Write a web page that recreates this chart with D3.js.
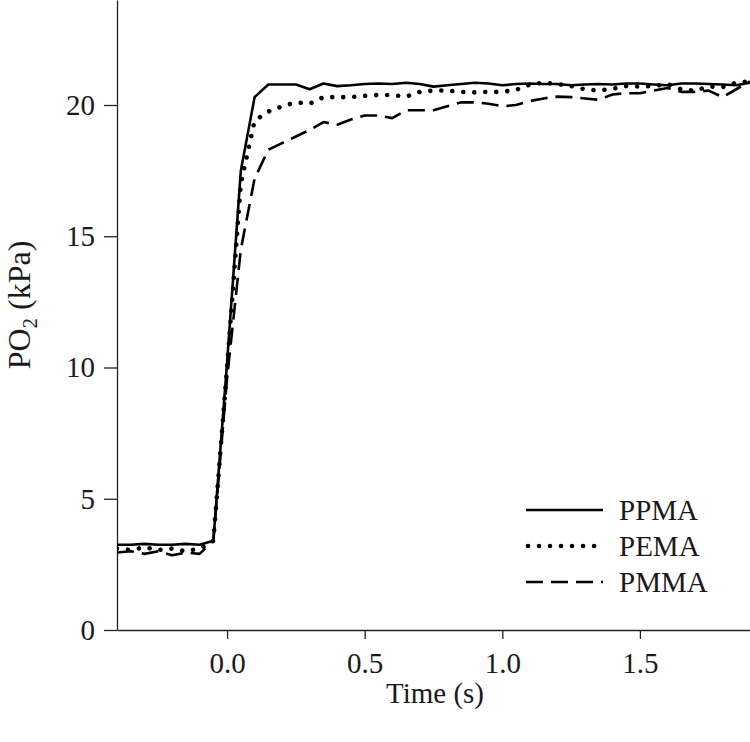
<!DOCTYPE html>
<html>
<head>
<meta charset="utf-8">
<script src="https://cdn.jsdelivr.net/npm/d3@7"></script>
<style>
  html, body { margin: 0; padding: 0; background: #fff; }
  svg { display: block; }
  text { font-family: "Liberation Serif", "DejaVu Serif", serif; fill: #1a1a1a; }
</style>
</head>
<body>
<svg id="chart" width="750" height="742"></svg>
<script>
// ---- data ----
const times = [-0.4, -0.35, -0.3, -0.25, -0.2, -0.15, -0.1, -0.05,
  0.0, 0.05, 0.1, 0.15, 0.2, 0.25, 0.3, 0.35, 0.4, 0.45,
  0.5, 0.55, 0.6, 0.65, 0.7, 0.75, 0.8, 0.85, 0.9, 0.95,
  1.0, 1.05, 1.1, 1.15, 1.2, 1.25, 1.3, 1.35, 1.4, 1.45,
  1.5, 1.55, 1.6, 1.65, 1.7, 1.75, 1.8, 1.85, 1.9];

const ppma = [3.25, 3.25, 3.28, 3.25, 3.25, 3.28, 3.25, 3.4,
  10.2, 17.5, 20.3, 20.78, 20.78, 20.78, 20.6, 20.82, 20.72, 20.75,
  20.8, 20.82, 20.8, 20.85, 20.8, 20.7, 20.75, 20.8, 20.85, 20.82,
  20.75, 20.8, 20.82, 20.8, 20.8, 20.75, 20.78, 20.8, 20.78, 20.82,
  20.82, 20.78, 20.75, 20.82, 20.82, 20.8, 20.78, 20.75, 20.85];

const pema = [3.1, 3.05, 3.15, 3.05, 3.1, 3.0, 3.1, 3.4,
  10.0, 17.0, 19.4, 19.75, 19.95, 20.1, 20.05, 20.3, 20.3, 20.3,
  20.35, 20.38, 20.38, 20.32, 20.5, 20.55, 20.55, 20.5, 20.48, 20.5,
  20.5, 20.58, 20.78, 20.85, 20.8, 20.72, 20.6, 20.55, 20.62, 20.72,
  20.7, 20.72, 20.8, 20.6, 20.55, 20.7, 20.68, 20.85, 20.9];

const pmma = [2.95, 3.0, 2.9, 3.0, 2.85, 2.95, 2.9, 3.4,
  9.6, 14.5, 17.2, 18.3, 18.55, 18.8, 19.05, 19.35, 19.25, 19.45,
  19.6, 19.6, 19.5, 19.8, 19.8, 19.8, 19.95, 20.1, 20.1, 20.05,
  19.95, 20.0, 20.15, 20.25, 20.32, 20.3, 20.25, 20.2, 20.4, 20.45,
  20.45, 20.55, 20.65, 20.5, 20.5, 20.55, 20.3, 20.6, 20.9];

const seriesNames = ["PPMA", "PEMA", "PMMA"];
const xTicks = [0.0, 0.5, 1.0, 1.5];
const xTickLabels = ["0.0", "0.5", "1.0", "1.5"];
const yTicks = [0, 5, 10, 15, 20];
const yTickLabels = ["0", "5", "10", "15", "20"];

// ---- layout ----
const svg = d3.select("#chart");
const plotLeft = 117, plotRight = 750, plotTop = 0, plotBottom = 630;
const fontSize = 29;

const x = d3.scaleLinear().domain([-0.4, 1.9]).range([plotLeft, plotRight]);
const y = d3.scaleLinear().domain([0, 24]).range([plotBottom, plotTop]);

const styles = {
  PPMA: { width: 2.6, dash: null, cap: "butt" },
  PEMA: { width: 4.6, dash: "0.01 11", cap: "round" },
  PMMA: { width: 2.6, dash: "17 8", cap: "butt" }
};
const seriesData = { PPMA: ppma, PEMA: pema, PMMA: pmma };

// axes
const yAxis = d3.axisLeft(y).tickValues(yTicks)
  .tickFormat((d, i) => yTickLabels[i]).tickSize(13).tickSizeOuter(0).tickPadding(9);
const xAxis = d3.axisBottom(x).tickValues(xTicks)
  .tickFormat((d, i) => xTickLabels[i]).tickSize(9).tickSizeOuter(0).tickPadding(13);

const gy = svg.append("g").attr("transform", `translate(${plotLeft},0)`).call(yAxis);
const gx = svg.append("g").attr("transform", `translate(0,${plotBottom})`).call(xAxis);

[gx, gy].forEach(g => {
  g.selectAll("path, line").attr("stroke", "#222").attr("stroke-width", 1.3);
  g.selectAll("text").attr("font-family", "Liberation Serif, serif")
    .attr("font-size", fontSize).attr("fill", "#1a1a1a");
});

// lines
const line = d3.line().x((d, i) => x(times[i])).y(d => y(d));
svg.append("clipPath").attr("id", "plotclip")
  .append("rect").attr("x", plotLeft).attr("y", plotTop)
  .attr("width", plotRight - plotLeft).attr("height", plotBottom - plotTop);

seriesNames.forEach(name => {
  const s = styles[name];
  svg.append("path")
    .datum(seriesData[name])
    .attr("clip-path", "url(#plotclip)")
    .attr("fill", "none")
    .attr("stroke", "#000")
    .attr("stroke-width", s.width)
    .attr("stroke-linecap", s.cap)
    .attr("stroke-linejoin", "round")
    .attr("stroke-dasharray", s.dash)
    .attr("d", line);
});

// legend
const legendY = [510, 546, 582];
seriesNames.forEach((name, i) => {
  const s = styles[name];
  svg.append("line")
    .attr("x1", name === "PEMA" ? 528 : 526).attr("x2", 603)
    .attr("y1", legendY[i]).attr("y2", legendY[i])
    .attr("stroke", "#000").attr("stroke-width", s.width)
    .attr("stroke-linecap", s.cap)
    .attr("stroke-dasharray", s.dash);
  svg.append("text")
    .attr("x", 619).attr("y", legendY[i] + 10)
    .attr("font-size", fontSize)
    .text(name);
});

// axis titles
svg.append("text")
  .attr("x", 435).attr("y", 703)
  .attr("text-anchor", "middle")
  .attr("font-size", fontSize)
  .text("Time (s)");

const yt = svg.append("text")
  .attr("transform", "translate(30,305) rotate(-90)")
  .attr("text-anchor", "middle")
  .attr("font-size", 32);
yt.append("tspan").text("PO");
yt.append("tspan").attr("font-size", 21).attr("dy", 7).text("2");
yt.append("tspan").attr("dy", -7).text(" (kPa)");
</script>
</body>
</html>
